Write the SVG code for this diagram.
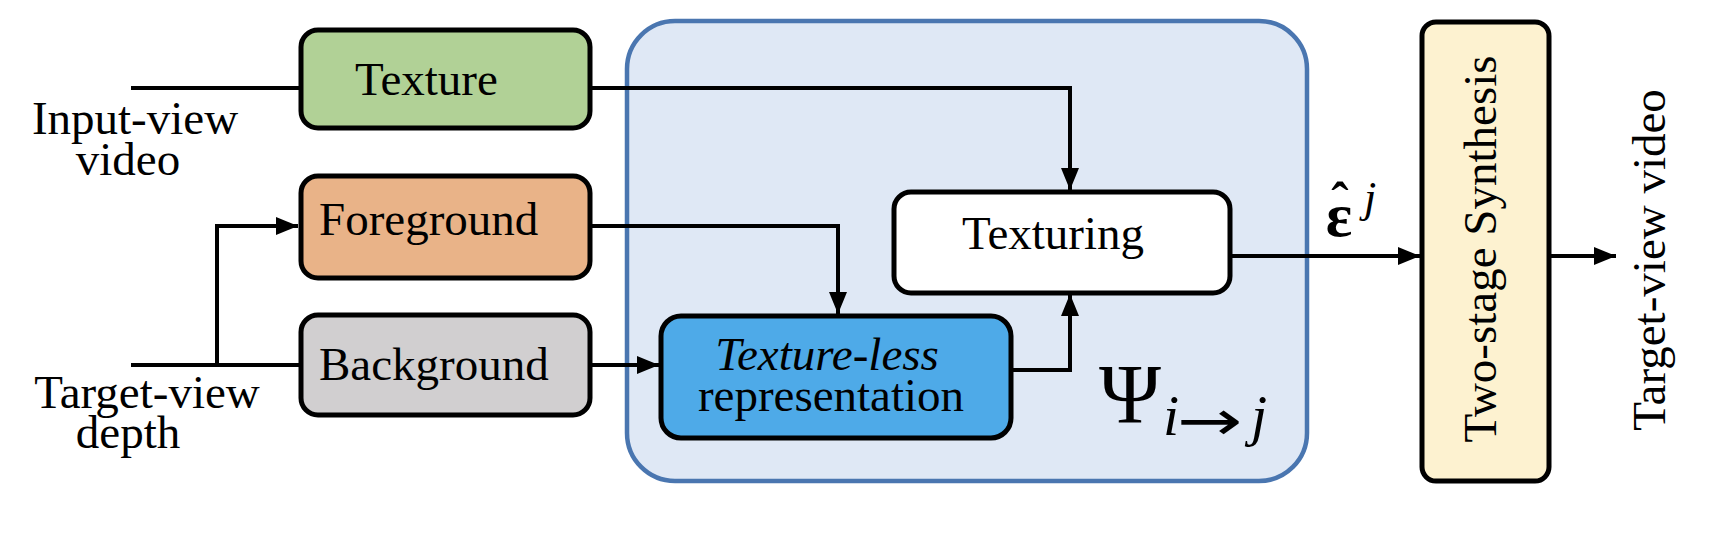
<svg xmlns="http://www.w3.org/2000/svg" width="1714" height="534" viewBox="0 0 1714 534">
<style>
.box{stroke:#000;stroke-width:5}
.t{font-family:"Liberation Serif","Times New Roman",serif;font-size:47px;fill:#000}
.m{font-family:"Liberation Serif","Times New Roman",serif;fill:#000}
.c{fill:none;stroke:#000;stroke-width:4}
</style>
<defs>
<marker id="ah" markerUnits="userSpaceOnUse" markerWidth="24" markerHeight="18" refX="22" refY="9" orient="auto">
<path d="M0,0 L22,9 L0,18 Z" fill="#000"/>
</marker>
</defs>
<rect width="1714" height="534" fill="#fff"/>
<g id="container">
<rect x="627" y="21" width="680" height="460" rx="48" fill="#dfe8f5" stroke="#4a76b0" stroke-width="4.5"/>
<text class="m" x="1099" y="423" font-size="84">Ψ</text>
<text class="m" x="1163" y="435" font-size="58" font-style="italic">i</text>
<text transform="translate(1177 440) scale(1.4 1)" style="font-family:'DejaVu Sans',sans-serif;font-size:56px">→</text>
<text class="m" x="1251" y="435" font-size="58" font-style="italic">j</text>
</g>
<g id="connectors">
<path class="c" d="M131 88 H300"/>
<path class="c" d="M590 88 H1070 V190" marker-end="url(#ah)"/>
<path class="c" d="M131 365 H300"/>
<path class="c" d="M217 365 V226 H298" marker-end="url(#ah)"/>
<path class="c" d="M590 226 H838 V314" marker-end="url(#ah)"/>
<path class="c" d="M590 365 H659" marker-end="url(#ah)"/>
<path class="c" d="M1011 370 H1070 V294" marker-end="url(#ah)"/>
<path class="c" d="M1230 256 H1420" marker-end="url(#ah)"/>
<path class="c" d="M1548 256 H1616" marker-end="url(#ah)"/>
</g>
<g id="label-input"><text class="t" text-anchor="middle" x="135" y="134">Input-view</text><text class="t" text-anchor="middle" x="128" y="175">video</text></g>
<g id="label-target"><text class="t" text-anchor="middle" x="147" y="408">Target-view</text><text class="t" text-anchor="middle" x="128" y="448">depth</text></g>
<g id="texture"><rect class="box" x="301" y="30" width="289" height="98" rx="17" fill="#b1d196"/><text class="t" x="355" y="95">Texture</text></g>
<g id="foreground"><rect class="box" x="301" y="176" width="289" height="102" rx="17" fill="#e9b388"/><text class="t" x="319" y="235">Foreground</text></g>
<g id="background"><rect class="box" x="301" y="315" width="289" height="100" rx="17" fill="#d1cfd0"/><text class="t" x="319" y="380" font-size="48">Background</text></g>
<g id="texturing"><rect class="box" x="894" y="192" width="336" height="101" rx="17" fill="#fff"/><text class="t" x="962" y="249">Texturing</text></g>
<g id="textureless"><rect class="box" x="661" y="316" width="350" height="122" rx="20" fill="#4eaae8"/><text class="t" x="827" y="370" text-anchor="middle" font-style="italic">Texture-less</text><text class="t" x="831" y="411" text-anchor="middle">representation</text></g>
<g id="epsilon"><text class="m" x="1339" y="236" font-size="62" font-weight="bold" text-anchor="middle">ε</text><text class="m" x="1340" y="219" font-size="52" font-weight="bold" text-anchor="middle">ˆ</text><text class="m" x="1364" y="212" font-size="44" font-style="italic">j</text></g>
<g id="twostage"><rect class="box" x="1422" y="22" width="127" height="459" rx="14" fill="#fdf2d0"/><text class="t" text-anchor="middle" font-size="48" transform="translate(1496 249) rotate(-90)">Two-stage Synthesis</text></g>
<g id="label-output"><text class="t" text-anchor="middle" font-size="49" transform="translate(1665 260) rotate(-90)">Target-view video</text></g>
</svg>
